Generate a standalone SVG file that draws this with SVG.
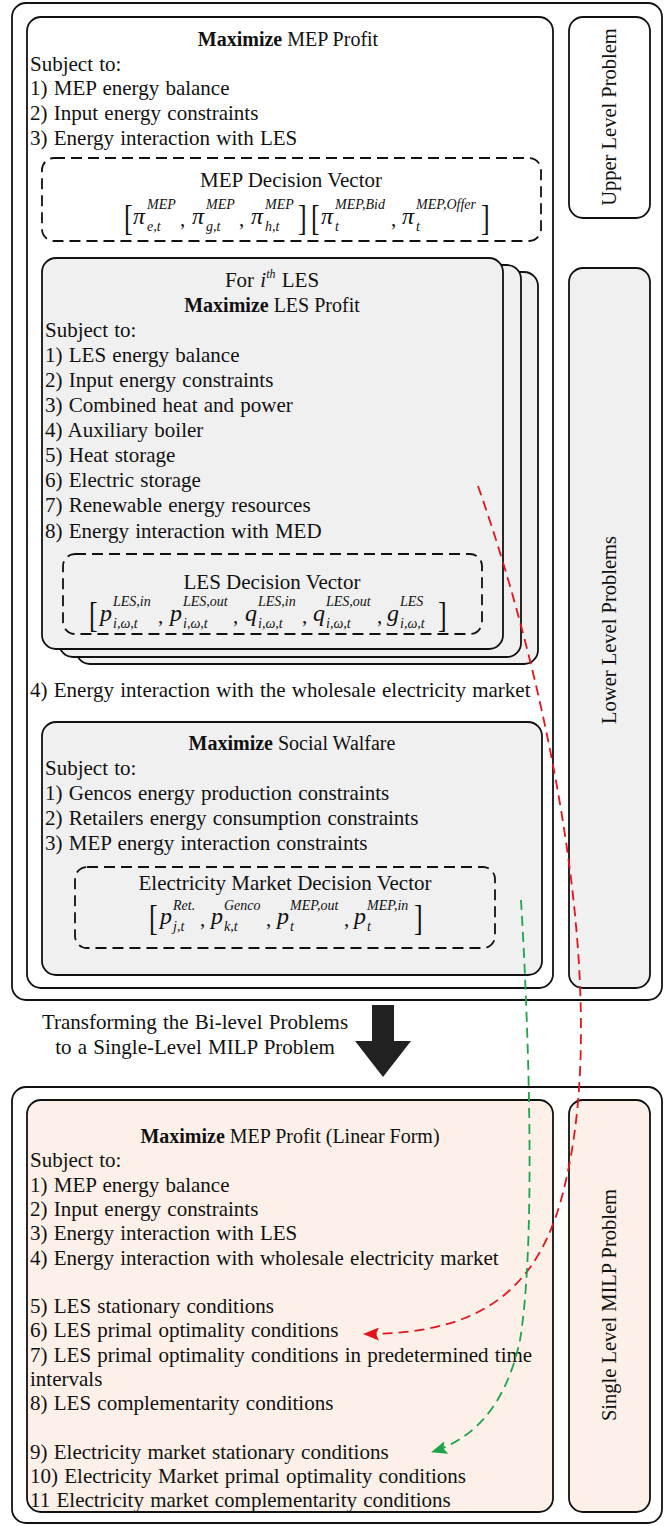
<svg xmlns="http://www.w3.org/2000/svg" width="665" height="1526" viewBox="0 0 665 1526">
<defs>
<style>
.box{fill:#fff;stroke:#111;stroke-width:1.8}
.gray{fill:#f0f0f0}
.peach{fill:#fcf0e8}
.dv{fill:none;stroke:#111;stroke-width:1.8;stroke-dasharray:11 6}
text{font-family:"Liberation Serif","Times New Roman",serif;fill:#111}
.t{font-size:21px;word-spacing:1px}
.h{font-size:20px}
.d{font-size:21px}
.c{text-anchor:middle}
.b{font-weight:bold}
.v{font-size:20.5px;text-anchor:middle}
.mi{font-size:24px;font-style:italic}
.sc{font-size:14px;font-style:italic}
.br{font-size:26px}
.cm{font-size:21px}
.red{fill:none;stroke:#e3141b;stroke-width:1.8;stroke-dasharray:10 6}
.grn{fill:none;stroke:#1ea44b;stroke-width:1.8;stroke-dasharray:10 6}
</style>
<marker id="ahR" viewBox="0 0 16 13" refX="15" refY="6.5" markerWidth="16" markerHeight="13" markerUnits="userSpaceOnUse" orient="auto"><path d="M0,0 L16,6.5 L0,13 L3,6.5 Z" fill="#e3141b"/></marker>
<marker id="ahG" viewBox="0 0 16 13" refX="15" refY="6.5" markerWidth="16" markerHeight="13" markerUnits="userSpaceOnUse" orient="auto"><path d="M0,0 L16,6.5 L0,13 L3,6.5 Z" fill="#1ea44b"/></marker>
</defs>

<!-- bi-level frame -->
<g id="bilevel-frame">
<rect class="box" x="12" y="3" width="650" height="997" rx="14"/>
</g>

<!-- upper level: MEP profit problem -->
<g id="mep-problem">
<rect class="box" x="27" y="17" width="526" height="971" rx="14"/>
<text class="h c" x="288" y="46"><tspan class="b">Maximize</tspan> MEP Profit</text>
<text class="t" x="30" y="71">Subject to:</text>
<text class="t" x="30" y="95">1) MEP energy balance</text>
<text class="t" x="30" y="120">2) Input energy constraints</text>
<text class="t" x="30" y="145">3) Energy interaction with LES</text>
<text class="t" x="30" y="697">4) Energy interaction with the wholesale electricity market</text>
</g>

<g id="mep-decision-vector">
<rect class="dv" x="42" y="158" width="499" height="83" rx="12"/>
<text class="d c" x="291" y="187">MEP Decision Vector</text>
<text class="br" transform="translate(124,230) scale(1,1.35)">[</text>
<text class="mi" x="133" y="224">π</text><text class="sc" x="147" y="209">MEP</text><text class="sc" x="147" y="231">e,t</text>
<text class="cm" x="180" y="226">,</text>
<text class="mi" x="192" y="224">π</text><text class="sc" x="206" y="209">MEP</text><text class="sc" x="206" y="231">g,t</text>
<text class="cm" x="239" y="226">,</text>
<text class="mi" x="251" y="224">π</text><text class="sc" x="265" y="209">MEP</text><text class="sc" x="265" y="231">h,t</text>
<text class="br" transform="translate(298,230) scale(1,1.35)">]</text>
<text class="br" transform="translate(311,230) scale(1,1.35)">[</text>
<text class="mi" x="321" y="224">π</text><text class="sc" x="335" y="209">MEP,Bid</text><text class="sc" x="335" y="231">t</text>
<text class="cm" x="391" y="226">,</text>
<text class="mi" x="402" y="224">π</text><text class="sc" x="416" y="209">MEP,Offer</text><text class="sc" x="416" y="231">t</text>
<text class="br" transform="translate(481,230) scale(1,1.35)">]</text>
</g>

<!-- lower level: stack of LES problems -->
<g id="les-problem">
<rect class="box gray" x="76" y="272" width="462" height="392" rx="14"/>
<rect class="box gray" x="59" y="265" width="462" height="392" rx="14"/>
<rect class="box gray" x="42" y="258" width="461" height="391" rx="14"/>
<text class="t c" x="272" y="287">For <tspan font-style="italic">i</tspan><tspan font-size="12" font-style="italic" dy="-9">th</tspan><tspan dy="9"> LES</tspan></text>
<text class="h c" x="272" y="312"><tspan class="b">Maximize</tspan> LES Profit</text>
<text class="t" x="45" y="337">Subject to:</text>
<text class="t" x="45" y="362">1) LES energy balance</text>
<text class="t" x="45" y="387">2) Input energy constraints</text>
<text class="t" x="45" y="412">3) Combined heat and power</text>
<text class="t" x="45" y="437">4) Auxiliary boiler</text>
<text class="t" x="45" y="462">5) Heat storage</text>
<text class="t" x="45" y="487">6) Electric storage</text>
<text class="t" x="45" y="512">7) Renewable energy resources</text>
<text class="t" x="45" y="538">8) Energy interaction with MED</text>
</g>

<g id="les-decision-vector">
<rect class="dv" x="63" y="554" width="419" height="80" rx="12"/>
<text class="d c" x="272" y="589">LES Decision Vector</text>
<text class="br" transform="translate(89,627) scale(1,1.35)">[</text>
<text class="mi" x="100" y="621">p</text><text class="sc" x="113" y="606">LES,in</text><text class="sc" x="113" y="628">i,ω,t</text>
<text class="cm" x="158" y="623">,</text>
<text class="mi" x="170" y="621">p</text><text class="sc" x="183" y="606">LES,out</text><text class="sc" x="183" y="628">i,ω,t</text>
<text class="cm" x="233" y="623">,</text>
<text class="mi" x="245" y="621">q</text><text class="sc" x="258" y="606">LES,in</text><text class="sc" x="258" y="628">i,ω,t</text>
<text class="cm" x="302" y="623">,</text>
<text class="mi" x="313" y="621">q</text><text class="sc" x="326" y="606">LES,out</text><text class="sc" x="326" y="628">i,ω,t</text>
<text class="cm" x="377" y="623">,</text>
<text class="mi" x="387" y="621">g</text><text class="sc" x="400" y="606">LES</text><text class="sc" x="400" y="628">i,ω,t</text>
<text class="br" transform="translate(438,627) scale(1,1.35)">]</text>
</g>

<!-- lower level: wholesale market clearing -->
<g id="market-problem">
<rect class="box gray" x="42" y="722" width="500" height="253" rx="14"/>
<text class="h c" x="292" y="750"><tspan class="b">Maximize</tspan> Social Walfare</text>
<text class="t" x="45" y="775">Subject to:</text>
<text class="t" x="45" y="800">1) Gencos energy production constraints</text>
<text class="t" x="45" y="825">2) Retailers energy consumption constraints</text>
<text class="t" x="45" y="850">3) MEP energy interaction constraints</text>
</g>

<g id="market-decision-vector">
<rect class="dv" x="75" y="867" width="420" height="81" rx="12"/>
<text class="d c" x="285" y="890">Electricity Market Decision Vector</text>
<text class="br" transform="translate(149,930) scale(1,1.35)">[</text>
<text class="mi" x="160" y="924">p</text><text class="sc" x="173" y="910">Ret.</text><text class="sc" x="173" y="931">j,t</text>
<text class="cm" x="200" y="926">,</text>
<text class="mi" x="211" y="924">p</text><text class="sc" x="224" y="910">Genco</text><text class="sc" x="224" y="931">k,t</text>
<text class="cm" x="266" y="926">,</text>
<text class="mi" x="277" y="924">p</text><text class="sc" x="290" y="910">MEP,out</text><text class="sc" x="290" y="931">t</text>
<text class="cm" x="344" y="926">,</text>
<text class="mi" x="354" y="924">p</text><text class="sc" x="367" y="910">MEP,in</text><text class="sc" x="367" y="931">t</text>
<text class="br" transform="translate(414,930) scale(1,1.35)">]</text>
</g>

<g id="upper-level-label">
<rect class="box" x="569" y="17" width="81" height="201" rx="14"/>
<text class="v" transform="translate(609,117) rotate(-90)" y="7">Upper Level Problem</text>
</g>

<g id="lower-level-label">
<rect class="box gray" x="569" y="268" width="81" height="720" rx="14"/>
<text class="v" transform="translate(609,630) rotate(-90)" y="7">Lower Level Problems</text>
</g>

<!-- reformulation step -->
<g id="transform-step">
<polygon points="372,1005 394,1005 394,1041 411,1041 383,1077 355,1041 372,1041" fill="#222"/>
<text class="t c" x="195" y="1029">Transforming the Bi-level Problems</text>
<text class="t c" x="195" y="1054">to a Single-Level MILP Problem</text>
</g>

<!-- single-level MILP -->
<g id="milp-frame">
<rect class="box" x="12" y="1087" width="650" height="436" rx="14"/>
</g>

<g id="milp-problem">
<rect class="box peach" x="27" y="1100" width="526" height="412" rx="14"/>
<text class="h c" x="290" y="1143"><tspan class="b">Maximize</tspan> MEP Profit (Linear Form)</text>
<text class="t" x="30" y="1167">Subject to:</text>
<text class="t" x="30" y="1192">1) MEP energy balance</text>
<text class="t" x="30" y="1216">2) Input energy constraints</text>
<text class="t" x="30" y="1240">3) Energy interaction with LES</text>
<text class="t" x="30" y="1265">4) Energy interaction with wholesale electricity market</text>
<text class="t" x="30" y="1313">5) LES stationary conditions</text>
<text class="t" x="30" y="1337">6) LES primal optimality conditions</text>
<text class="t" x="30" y="1362">7) LES primal optimality conditions in predetermined time</text>
<text class="t" x="30" y="1386">intervals</text>
<text class="t" x="30" y="1410">8) LES complementarity conditions</text>
<text class="t" x="30" y="1459">9) Electricity market stationary conditions</text>
<text class="t" x="30" y="1483">10) Electricity Market primal optimality conditions</text>
<text class="t" x="30" y="1507">11 Electricity market complementarity conditions</text>
</g>

<g id="milp-label">
<rect class="box peach" x="569" y="1100" width="81" height="412" rx="14"/>
<text class="v" transform="translate(609,1305) rotate(-90)" y="7">Single Level MILP Problem</text>
</g>

<!-- mapping of lower-level problems to their optimality conditions -->
<g id="connectors">
<path class="red" d="M478,486 C550,690 610,990 566,1180 C540,1300 470,1334 364,1334" marker-end="url(#ahR)"/>
<path class="grn" d="M521,900 C530,1050 535,1250 520,1340 C505,1410 470,1440 432,1452" marker-end="url(#ahG)"/>
</g>
</svg>
